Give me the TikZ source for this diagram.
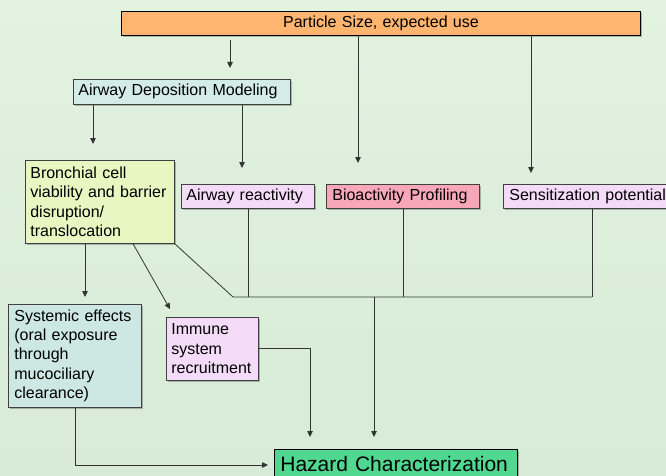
\documentclass[tikz,border=0pt]{standalone}
\usepackage{fontspec}
\setmainfont{Liberation Sans}
\usetikzlibrary{arrows.meta,shadows}
\definecolor{bgtop}{HTML}{E2F3E0}
\definecolor{bgbot}{HTML}{D7EBD6}
\definecolor{cTop}{HTML}{FFB570}
\definecolor{cAdm}{HTML}{D3ECE8}
\definecolor{cBro}{HTML}{E8F6C2}
\definecolor{cLav}{HTML}{F4DCF8}
\definecolor{cBio}{HTML}{F7A7B8}
\definecolor{cSys}{HTML}{CDE8E2}
\definecolor{cHaz}{HTML}{50D890}
\definecolor{cLine}{HTML}{333333}
\tikzset{
  box/.style={draw=black!75, line width=0.7pt, inner xsep=5pt, inner ysep=2pt,
    anchor=north west, align=left, font=\fontsize{16}{19.3}\selectfont,
    drop shadow={shadow xshift=1.2pt, shadow yshift=-1.2pt, fill=black, opacity=0.25}},
  conn/.style={draw=cLine, line width=0.8pt},
  arr/.style={conn, -{Triangle[length=6pt,width=5.5pt]}}
}
\begin{document}
\begin{tikzpicture}[x=1pt,y=-1pt]
\useasboundingbox (0,0) rectangle (666,476);
\begin{scope}
\clip (0,0) rectangle (666,476);
\shade[top color=bgtop, bottom color=bgbot] (0,0) rectangle (666,476);

\node[box, fill=cTop, draw=black, line width=1pt, minimum width=519pt, minimum height=24pt, text width=509pt, align=center] (top) at (121,11) {Particle Size, expected use};
\node[box, fill=cAdm, minimum width=217pt, minimum height=25pt, text width=207pt] (adm) at (73,79) {Airway Deposition Modeling};
\node[box, fill=cBro, minimum width=149pt, minimum height=83pt, text width=139pt] (bro) at (25,160) {Bronchial cell\\viability and barrier\\disruption/\\translocation};
\node[box, fill=cLav, minimum width=133pt, minimum height=24pt, text width=123pt] (ar) at (181,184) {Airway reactivity};
\node[box, fill=cBio, inner xsep=6pt, minimum width=153pt, minimum height=24pt, text width=141pt] (bp) at (326,184) {Bioactivity Profiling};
\node[box, fill=cLav, inner xsep=6pt, minimum width=172pt, minimum height=24pt, text width=160pt] (sp) at (503,184) {Sensitization potential};
\node[box, fill=cSys, inner xsep=6pt, minimum width=133pt, minimum height=103pt, text width=121pt] (sys) at (8,304) {Systemic effects\\(oral exposure\\through\\mucociliary\\clearance)};
\node[box, fill=cLav, minimum width=92pt, minimum height=63pt, text width=82pt] (imm) at (166,317) {Immune\\system\\recruitment};
\node[box, fill=cHaz, draw=black, inner xsep=6pt, inner ysep=2pt, text height=20pt, text depth=6pt, minimum width=243pt, text width=231pt, font=\fontsize{21}{25}\selectfont] (haz) at (274,449) {Hazard Characterization};

% junction line
\coordinate (jl) at (233,297);
\coordinate (jr) at (592,297);

% arrows from top box
\coordinate (a1) at ([xshift=109pt]top.south west);
\coordinate (a2) at ([xshift=237pt]top.south west);
\coordinate (a3) at ([xshift=410pt]top.south west);
\draw[arr, shorten <=4pt, shorten >=11pt] (a1) -- (a1 |- adm.north);
\draw[arr, shorten >=21pt] (a2) -- (a2 |- bp.north);
\draw[arr, shorten >=11pt] (a3) -- (a3 |- sp.north);

% arrows from airway deposition modeling
\coordinate (d1) at ([xshift=20pt]adm.south west);
\coordinate (d2) at ([xshift=169pt]adm.south west);
\draw[arr, shorten >=16pt] (d1) -- (d1 |- bro.north);
\draw[arr, shorten >=16pt] (d2) -- (d2 |- ar.north);

% lines into junction
\coordinate (l1) at ([xshift=67pt]ar.south west);
\coordinate (l2) at ([xshift=77pt]bp.south west);
\coordinate (l3) at ([xshift=89pt]sp.south west);
\draw[conn] (l1) -- (l1 |- jl);
\draw[conn] (l2) -- (l2 |- jl);
\draw[conn] (l3) -- (l3 |- jl);
\draw[conn] (bro.south east) -- (jl) -- (jr);

% junction to hazard
\coordinate (hz) at ([xshift=100pt]haz.north west);
\draw[arr, shorten >=12pt] (hz |- jl) -- (hz);

% bronchial to systemic and immune
\coordinate (b1) at ([xshift=60pt]bro.south west);
\coordinate (b2) at ([xshift=108pt]bro.south west);
\draw[arr, shorten >=7pt] (b1) -- (b1 |- sys.north);
\draw[arr, shorten >=9pt] (b2) -- ([xshift=8.5pt]imm.north west);

% immune to hazard
\draw[arr, shorten >=12pt] (imm.east) -| ([xshift=36pt]haz.north west);

% systemic to hazard
\coordinate (s1) at ([xshift=67pt]sys.south west);
\coordinate (h1) at ([yshift=-16pt]haz.north west);
\draw[arr, shorten >=6pt] (s1) |- (h1);
\end{scope}
\end{tikzpicture}
\end{document}
